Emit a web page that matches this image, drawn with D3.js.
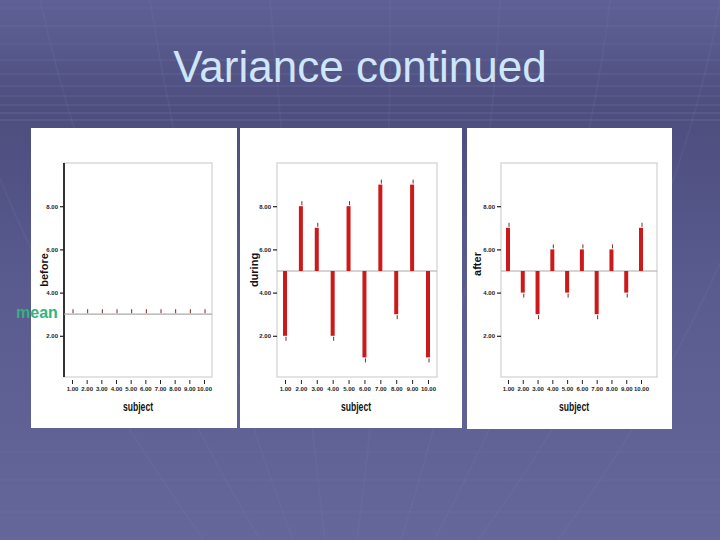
<!DOCTYPE html>
<html>
<head>
<meta charset="utf-8">
<script src="https://cdn.jsdelivr.net/npm/d3@7"></script>
<style>
  html, body { margin: 0; padding: 0; background: #5b5c8e; }
  svg { display: block; }
  .tick text { font-family: "Liberation Sans Narrow", "Liberation Sans", Arial, sans-serif; font-weight: bold; }
</style>
</head>
<body>
<div id="chart"></div>
<script>
// data
const subjects = [1, 2, 3, 4, 5, 6, 7, 8, 9, 10];
const before = [3, 3, 3, 3, 3, 3, 3, 3, 3, 3];
const during = [2, 8, 7, 2, 8, 1, 9, 3, 9, 1];
const after = [7, 4, 3, 6, 4, 6, 3, 6, 4, 7];
const yTicks = [2, 4, 6, 8];
const yLabels = ["before", "during", "after"];

const W = 720, H = 540;

const svg = d3.select("#chart")
  .append("svg")
  .attr("width", W)
  .attr("height", H);

// slide background
const defs = svg.append("defs");
const grad = defs.append("linearGradient")
  .attr("id", "bg").attr("x1", 0).attr("y1", 0).attr("x2", 0).attr("y2", 1);
grad.append("stop").attr("offset", "0%").attr("stop-color", "#5f6095");
grad.append("stop").attr("offset", "20%").attr("stop-color", "#4d4e7e");
grad.append("stop").attr("offset", "55%").attr("stop-color", "#5a5b8f");
grad.append("stop").attr("offset", "100%").attr("stop-color", "#65669a");
svg.append("rect").attr("width", W).attr("height", H).attr("fill", "url(#bg)");

// faint perspective grid
const deco = svg.append("g").attr("stroke", "#8a8cc0").attr("fill", "none");
[8, 26, 44, 60, 74, 86, 96, 105, 113, 120].forEach((y, i) => {
  deco.append("line").attr("x1", 0).attr("x2", W).attr("y1", y).attr("y2", y)
    .attr("stroke-opacity", 0.1 + i * 0.015).attr("stroke-width", 1.5);
});
[452, 480, 512].forEach(y => {
  deco.append("line").attr("x1", 0).attr("x2", W).attr("y1", y).attr("y2", y)
    .attr("stroke-opacity", 0.1).attr("stroke-width", 1.5);
});
[[-60, 60], [40, 140], [150, 215], [270, 295], [390, 375], [500, 455], [610, 530], [720, 610], [800, 690]]
  .forEach(([xt, xb]) => {
    deco.append("path")
      .attr("d", `M${xt},0 Q${(xt + xb) / 2 + 10},${H / 2} ${xb - (xt - xb) * 1.2},${H}`)
      .attr("stroke-opacity", 0.1).attr("stroke-width", 2);
  });

// title
svg.append("text")
  .attr("x", 360).attr("y", 82)
  .attr("text-anchor", "middle")
  .attr("font-family", "Liberation Sans, Arial, sans-serif")
  .attr("font-size", 44)
  .attr("fill", "#cfe5f8")
  .text("Variance continued");

// panel layout
const panels = [
  { values: before, card: [31, 128, 206, 300], frame: [64, 212], xr: [72, 204], label: [45, 270], sub: 138, blackAxis: true },
  { values: during, card: [240, 128, 222, 300], frame: [277, 437], xr: [285, 428], label: [255, 270], sub: 356, blackAxis: false },
  { values: after, card: [467, 128, 205, 301], frame: [501, 657], xr: [508, 641], label: [478, 264], sub: 574, blackAxis: false }
];

const y = d3.scaleLinear().domain([0, 10]).range([379, 163]);
const plotTop = y(10), plotBottom = 377;

panels.forEach((p, k) => {
  const g = svg.append("g");

  g.append("rect")
    .attr("x", p.card[0]).attr("y", p.card[1])
    .attr("width", p.card[2]).attr("height", p.card[3])
    .attr("fill", "#ffffff");

  const x = d3.scaleLinear().domain([1, 10]).range(p.xr);
  const mean = d3.mean(p.values);

  // frame
  g.append("rect")
    .attr("x", p.frame[0]).attr("y", plotTop)
    .attr("width", p.frame[1] - p.frame[0]).attr("height", plotBottom - plotTop)
    .attr("fill", "none").attr("stroke", "#d0d0d0").attr("stroke-width", 1.2);

  if (p.blackAxis) {
    g.append("line")
      .attr("x1", p.frame[0]).attr("x2", p.frame[0])
      .attr("y1", plotTop).attr("y2", plotBottom)
      .attr("stroke", "#333").attr("stroke-width", 2);
  }

  // y axis
  const ya = g.append("g")
    .attr("transform", `translate(${p.frame[0]},0)`)
    .call(d3.axisLeft(y).tickValues(yTicks).tickFormat(d3.format(".2f")).tickSize(4).tickPadding(2));
  ya.select(".domain").remove();
  ya.selectAll(".tick line").attr("stroke", "#222").attr("stroke-width", 1.2);
  ya.selectAll(".tick text").attr("font-size", 6).attr("fill", "#222");

  // x axis
  const xa = g.append("g")
    .attr("transform", `translate(0,${plotBottom + 3})`)
    .call(d3.axisBottom(x).tickValues(subjects).tickFormat(d3.format(".2f")).tickSize(4).tickPadding(3));
  xa.select(".domain").remove();
  xa.selectAll(".tick line").attr("stroke", "#222").attr("stroke-width", 1);
  xa.selectAll(".tick text").attr("font-size", 6).attr("fill", "#222");

  // mean line
  g.append("line")
    .attr("x1", p.frame[0]).attr("x2", p.frame[1])
    .attr("y1", y(mean)).attr("y2", y(mean))
    .attr("stroke", "#aaaaaa").attr("stroke-width", 1.2);

  // deviation bars
  g.selectAll("rect.bar")
    .data(p.values)
    .join("rect")
    .attr("class", "bar")
    .attr("x", (d, i) => x(subjects[i]) - 2)
    .attr("y", d => Math.min(y(d), y(mean)))
    .attr("width", 4)
    .attr("height", d => Math.abs(y(d) - y(mean)))
    .attr("fill", "#cc1a1a");

  // small value marks at bar ends
  g.selectAll("line.mark")
    .data(p.values)
    .join("line")
    .attr("class", "mark")
    .attr("x1", (d, i) => x(subjects[i]) + 1)
    .attr("x2", (d, i) => x(subjects[i]) + 1)
    .attr("y1", d => d >= mean ? y(d) - 1 : y(d) + 1)
    .attr("y2", d => d >= mean ? y(d) - 5 : y(d) + 5)
    .attr("stroke", "#7a2a2a").attr("stroke-width", 1);

  // axis titles
  g.append("text")
    .attr("transform", `translate(${p.label[0]},${p.label[1]}) rotate(-90)`)
    .attr("text-anchor", "middle")
    .attr("dominant-baseline", "middle")
    .attr("font-family", "Liberation Sans, Arial, sans-serif")
    .attr("font-weight", "bold")
    .attr("font-size", 11)
    .attr("fill", "#111")
    .text(yLabels[k]);

  g.append("text")
    .attr("x", p.sub).attr("y", 411)
    .attr("text-anchor", "middle")
    .attr("font-family", "Liberation Sans Narrow, Liberation Sans, Arial, sans-serif")
    .attr("font-weight", "bold")
    .attr("font-size", 12)
    .attr("textLength", 30)
    .attr("lengthAdjust", "spacingAndGlyphs")
    .attr("fill", "#111")
    .text("subject");
});

// "mean" callout
svg.append("text")
  .attr("x", 16).attr("y", 318)
  .attr("font-family", "Liberation Sans, Arial, sans-serif")
  .attr("font-weight", "bold")
  .attr("font-size", 16)
  .attr("fill", "#35b27c")
  .text("mean");
</script>
</body>
</html>
